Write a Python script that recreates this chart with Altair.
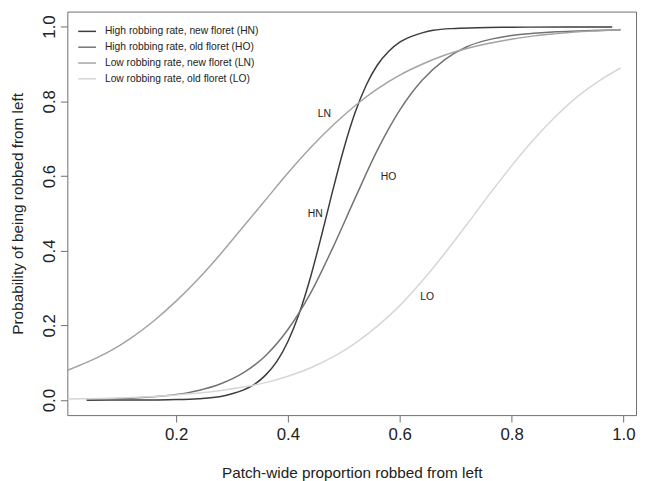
import altair as alt
import pandas as pd

# Series names (legend order) and short codes
series_names = [
    "High robbing rate, new floret (HN)",
    "High robbing rate, old floret (HO)",
    "Low robbing rate, new floret (LN)",
    "Low robbing rate, old floret (LO)",
]
codes = ["HN", "HO", "LN", "LO"]
colors = ["#3c3c3c", "#737373", "#a3a3a3", "#d6d6d6"]

# Values
hn_x = [0.04, 0.08, 0.12, 0.16, 0.20, 0.24, 0.28, 0.30, 0.32, 0.34, 0.36, 0.38,
        0.40, 0.42, 0.44, 0.46, 0.48, 0.50, 0.52, 0.54, 0.56, 0.58, 0.60, 0.62,
        0.64, 0.66, 0.70, 0.74, 0.80, 0.90, 0.98]
hn_y = [0.000, 0.0001, 0.0002, 0.0006, 0.0015, 0.004, 0.010, 0.017, 0.027, 0.042,
        0.067, 0.103, 0.157, 0.231, 0.327, 0.440, 0.560, 0.673, 0.769, 0.843,
        0.897, 0.933, 0.958, 0.973, 0.983, 0.990, 0.995, 0.997, 0.998, 0.999, 0.999]

ho_x = [0.04, 0.08, 0.12, 0.16, 0.20, 0.24, 0.28, 0.32, 0.36, 0.40, 0.44, 0.48,
        0.52, 0.56, 0.60, 0.64, 0.68, 0.72, 0.76, 0.80, 0.84, 0.88, 0.92, 0.96, 0.995]
ho_y = [0.002, 0.003, 0.005, 0.009, 0.015, 0.026, 0.044, 0.073, 0.119, 0.189,
        0.285, 0.407, 0.540, 0.669, 0.776, 0.856, 0.911, 0.946, 0.965, 0.976,
        0.982, 0.986, 0.988, 0.990, 0.991]

ln_x = [0.006, 0.04, 0.08, 0.12, 0.16, 0.20, 0.24, 0.28, 0.32, 0.36, 0.40, 0.44,
        0.48, 0.52, 0.56, 0.60, 0.64, 0.68, 0.72, 0.76, 0.80, 0.84, 0.88, 0.92,
        0.96, 0.995]
ln_y = [0.080, 0.101, 0.130, 0.167, 0.212, 0.265, 0.325, 0.392, 0.464, 0.536,
        0.608, 0.675, 0.735, 0.788, 0.833, 0.870, 0.899, 0.923, 0.941, 0.955,
        0.966, 0.975, 0.981, 0.986, 0.989, 0.992]

lo_x = [0.006, 0.04, 0.08, 0.12, 0.16, 0.20, 0.24, 0.28, 0.32, 0.36, 0.40, 0.44,
        0.48, 0.52, 0.56, 0.60, 0.64, 0.68, 0.72, 0.76, 0.80, 0.84, 0.88, 0.92,
        0.96, 0.995]
lo_y = [0.003, 0.004, 0.005, 0.007, 0.010, 0.014, 0.019, 0.026, 0.035, 0.047,
        0.064, 0.086, 0.115, 0.152, 0.198, 0.253, 0.319, 0.392, 0.470, 0.550,
        0.627, 0.698, 0.761, 0.815, 0.858, 0.889]

# In-plot curve labels (data coordinates)
label_text = ["LN", "HO", "HN", "LO"]
label_x = [0.465, 0.580, 0.449, 0.649]
label_y = [0.766, 0.597, 0.499, 0.276]

x_ticks = [0.2, 0.4, 0.6, 0.8, 1.0]
y_ticks = [0.0, 0.2, 0.4, 0.6, 0.8, 1.0]

rows = []
for name, xs, ys in zip(series_names, [hn_x, ho_x, ln_x, lo_x], [hn_y, ho_y, ln_y, lo_y]):
    for i, (a, b) in enumerate(zip(xs, ys)):
        rows.append({"series": name, "x": a, "y": b, "order": i})
df = pd.DataFrame(rows)
df_lab = pd.DataFrame({"label": label_text, "x": label_x, "y": label_y})

FONT = "Liberation Sans"
xscale = alt.Scale(domain=[0.0055, 1.0226], nice=False, zero=False)
yscale = alt.Scale(domain=[-0.04, 1.04], nice=False, zero=False)

x_axis = alt.Axis(
    values=x_ticks, format=".1f", grid=False, domain=False,
    tickSize=7, tickColor="#6e6e6e", tickWidth=1,
    labelFont=FONT, labelFontSize=17, labelColor="#222222", labelPadding=5,
    labelFlush=False, labelOverlap=False,
    title="Patch-wide proportion robbed from left",
    titleFont=FONT, titleFontSize=15.5, titleFontWeight="normal", titleColor="#222222",
    titleY=63, titleBaseline="alphabetic",
)
y_axis = alt.Axis(
    values=y_ticks, format=".1f", grid=False, domain=False,
    tickSize=7, tickColor="#6e6e6e", tickWidth=1,
    labelFont=FONT, labelFontSize=17, labelColor="#222222", labelPadding=6,
    labelAngle=270, labelAlign="center", labelBaseline="alphabetic",
    labelFlush=False, labelOverlap=False,
    title="Probability of being robbed from left",
    titleFont=FONT, titleFontSize=15.5, titleFontWeight="normal", titleColor="#222222",
    titleAngle=270, titleAlign="center", titleBaseline="alphabetic", titleX=-45,
)

lines = alt.Chart(df).mark_line(strokeWidth=1.5, interpolate="monotone", clip=True).encode(
    x=alt.X("x:Q", scale=xscale, axis=x_axis),
    y=alt.Y("y:Q", scale=yscale, axis=y_axis),
    color=alt.Color(
        "series:N",
        scale=alt.Scale(domain=series_names, range=colors),
        legend=alt.Legend(
            title=None, orient="none", legendX=10, legendY=10,
            symbolType="stroke", symbolSize=324, symbolStrokeWidth=1.5,
            labelFont=FONT, labelFontSize=10.4, labelColor="#222222",
            labelOffset=8, rowPadding=-4, padding=0, labelLimit=400,
        ),
    ),
    order=alt.Order("order:Q"),
)

labels = alt.Chart(df_lab).mark_text(font=FONT, fontSize=10.5, color="#222222").encode(
    x=alt.X("x:Q", scale=xscale),
    y=alt.Y("y:Q", scale=yscale),
    text="label:N",
)

chart = alt.layer(lines, labels).properties(
    width=575, height=408,
    padding={"left": 60, "top": 1, "right": 2, "bottom": 64},
    autosize=alt.AutoSizeParams(type="none"),
    background="white",
).configure_view(stroke="#6e6e6e", strokeWidth=1)

chart.save("out.html", embed_options={"renderer": "svg", "actions": False})
